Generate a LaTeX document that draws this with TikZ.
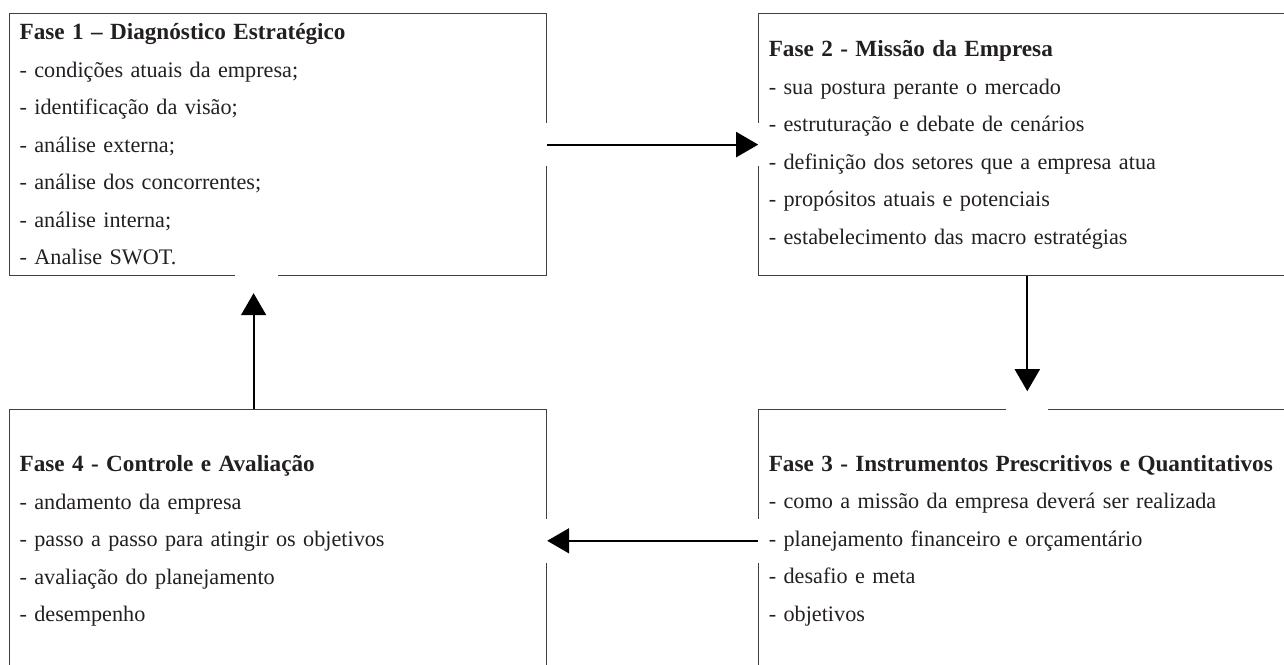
\documentclass[tikz,border=0pt]{standalone}
\usepackage{fontspec}
\setmainfont{Liberation Serif}
\usetikzlibrary{positioning,arrows.meta}
\definecolor{ink}{HTML}{231F20}
\definecolor{frame}{HTML}{404040}
\newcommand{\titulo}[1]{{\fontsize{11.6pt}{18.75pt}\selectfont\bfseries #1}}
\begin{document}
\begin{tikzpicture}[x=0.5pt,y=-0.5pt,
		fase/.style={draw=frame,line width=0.6pt,text=ink,align=left,text width=258.5pt,inner xsep=5pt,inner ysep=0pt,minimum height=131pt,font=\fontsize{11.1pt}{18.75pt}\selectfont},
		flow/.style={-{Triangle[length=11pt,width=12.5pt]},line width=1pt},
		gap/.style={fill=white}]
			\useasboundingbox (0,0) rectangle (1284,664);
			\clip (0,0) rectangle (1284,664);
			\node[fase,anchor=north west] (fase1) at (9,13) {\titulo{Fase 1 – Diagnóstico Estratégico}\\- condições atuais da empresa;\\- identificação da visão;\\- análise externa;\\- análise dos concorrentes;\\- análise interna;\\- Analise SWOT.};
			\node[fase,right=105.5pt of fase1] (fase2) {\titulo{Fase 2 - Missão da Empresa}\\- sua postura perante o mercado\\- estruturação e debate de cenários\\- definição dos setores que a empresa atua\\- propósitos atuais e potenciais\\- estabelecimento das macro estratégias};
			\node[fase,below=66.5pt of fase2] (fase3) {\titulo{Fase 3 - Instrumentos Prescritivos e Quantitativos}\\- como a missão da empresa deverá ser realizada\\- planejamento financeiro e orçamentário\\- desafio e meta\\- objetivos};
			\node[fase,below=66.5pt of fase1] (fase4) {\titulo{Fase 4 - Controle e Avaliação}\\- andamento da empresa\\- passo a passo para atingir os objetivos\\- avaliação do planejamento\\- desempenho};
			% openings in the frames where the arrows meet them
			\fill[gap] ([xshift=-1pt,yshift=10.75pt]fase1.east) rectangle ([xshift=1pt,yshift=-10.75pt]fase1.east);
			\fill[gap] ([xshift=-1pt,yshift=10.75pt]fase2.west) rectangle ([xshift=1pt,yshift=-10.75pt]fase2.west);
			\fill[gap] ([xshift=-1pt,yshift=11pt]fase3.west) rectangle ([xshift=1pt,yshift=-11pt]fase3.west);
			\fill[gap] ([xshift=-1pt,yshift=11pt]fase4.east) rectangle ([xshift=1pt,yshift=-11pt]fase4.east);
			\fill[gap] ([xshift=-10.5pt,yshift=1pt]fase3.north) rectangle ([xshift=10.5pt,yshift=-1pt]fase3.north);
			\fill[gap] ([xshift=-21.5pt,yshift=1pt]fase1.south) rectangle ([xshift=0pt,yshift=-1pt]fase1.south);
			\draw[flow] (fase1.east) -- (fase2.west);
			\draw[flow,shorten >=9pt] (fase2.south) -- (fase3.north);
			\draw[flow] (fase3.west) -- (fase4.east);
			\draw[flow,shorten >=8.5pt] ([xshift=-12.25pt]fase4.north) -- ([xshift=-12.25pt]fase1.south);
		\end{tikzpicture}
\end{document}
